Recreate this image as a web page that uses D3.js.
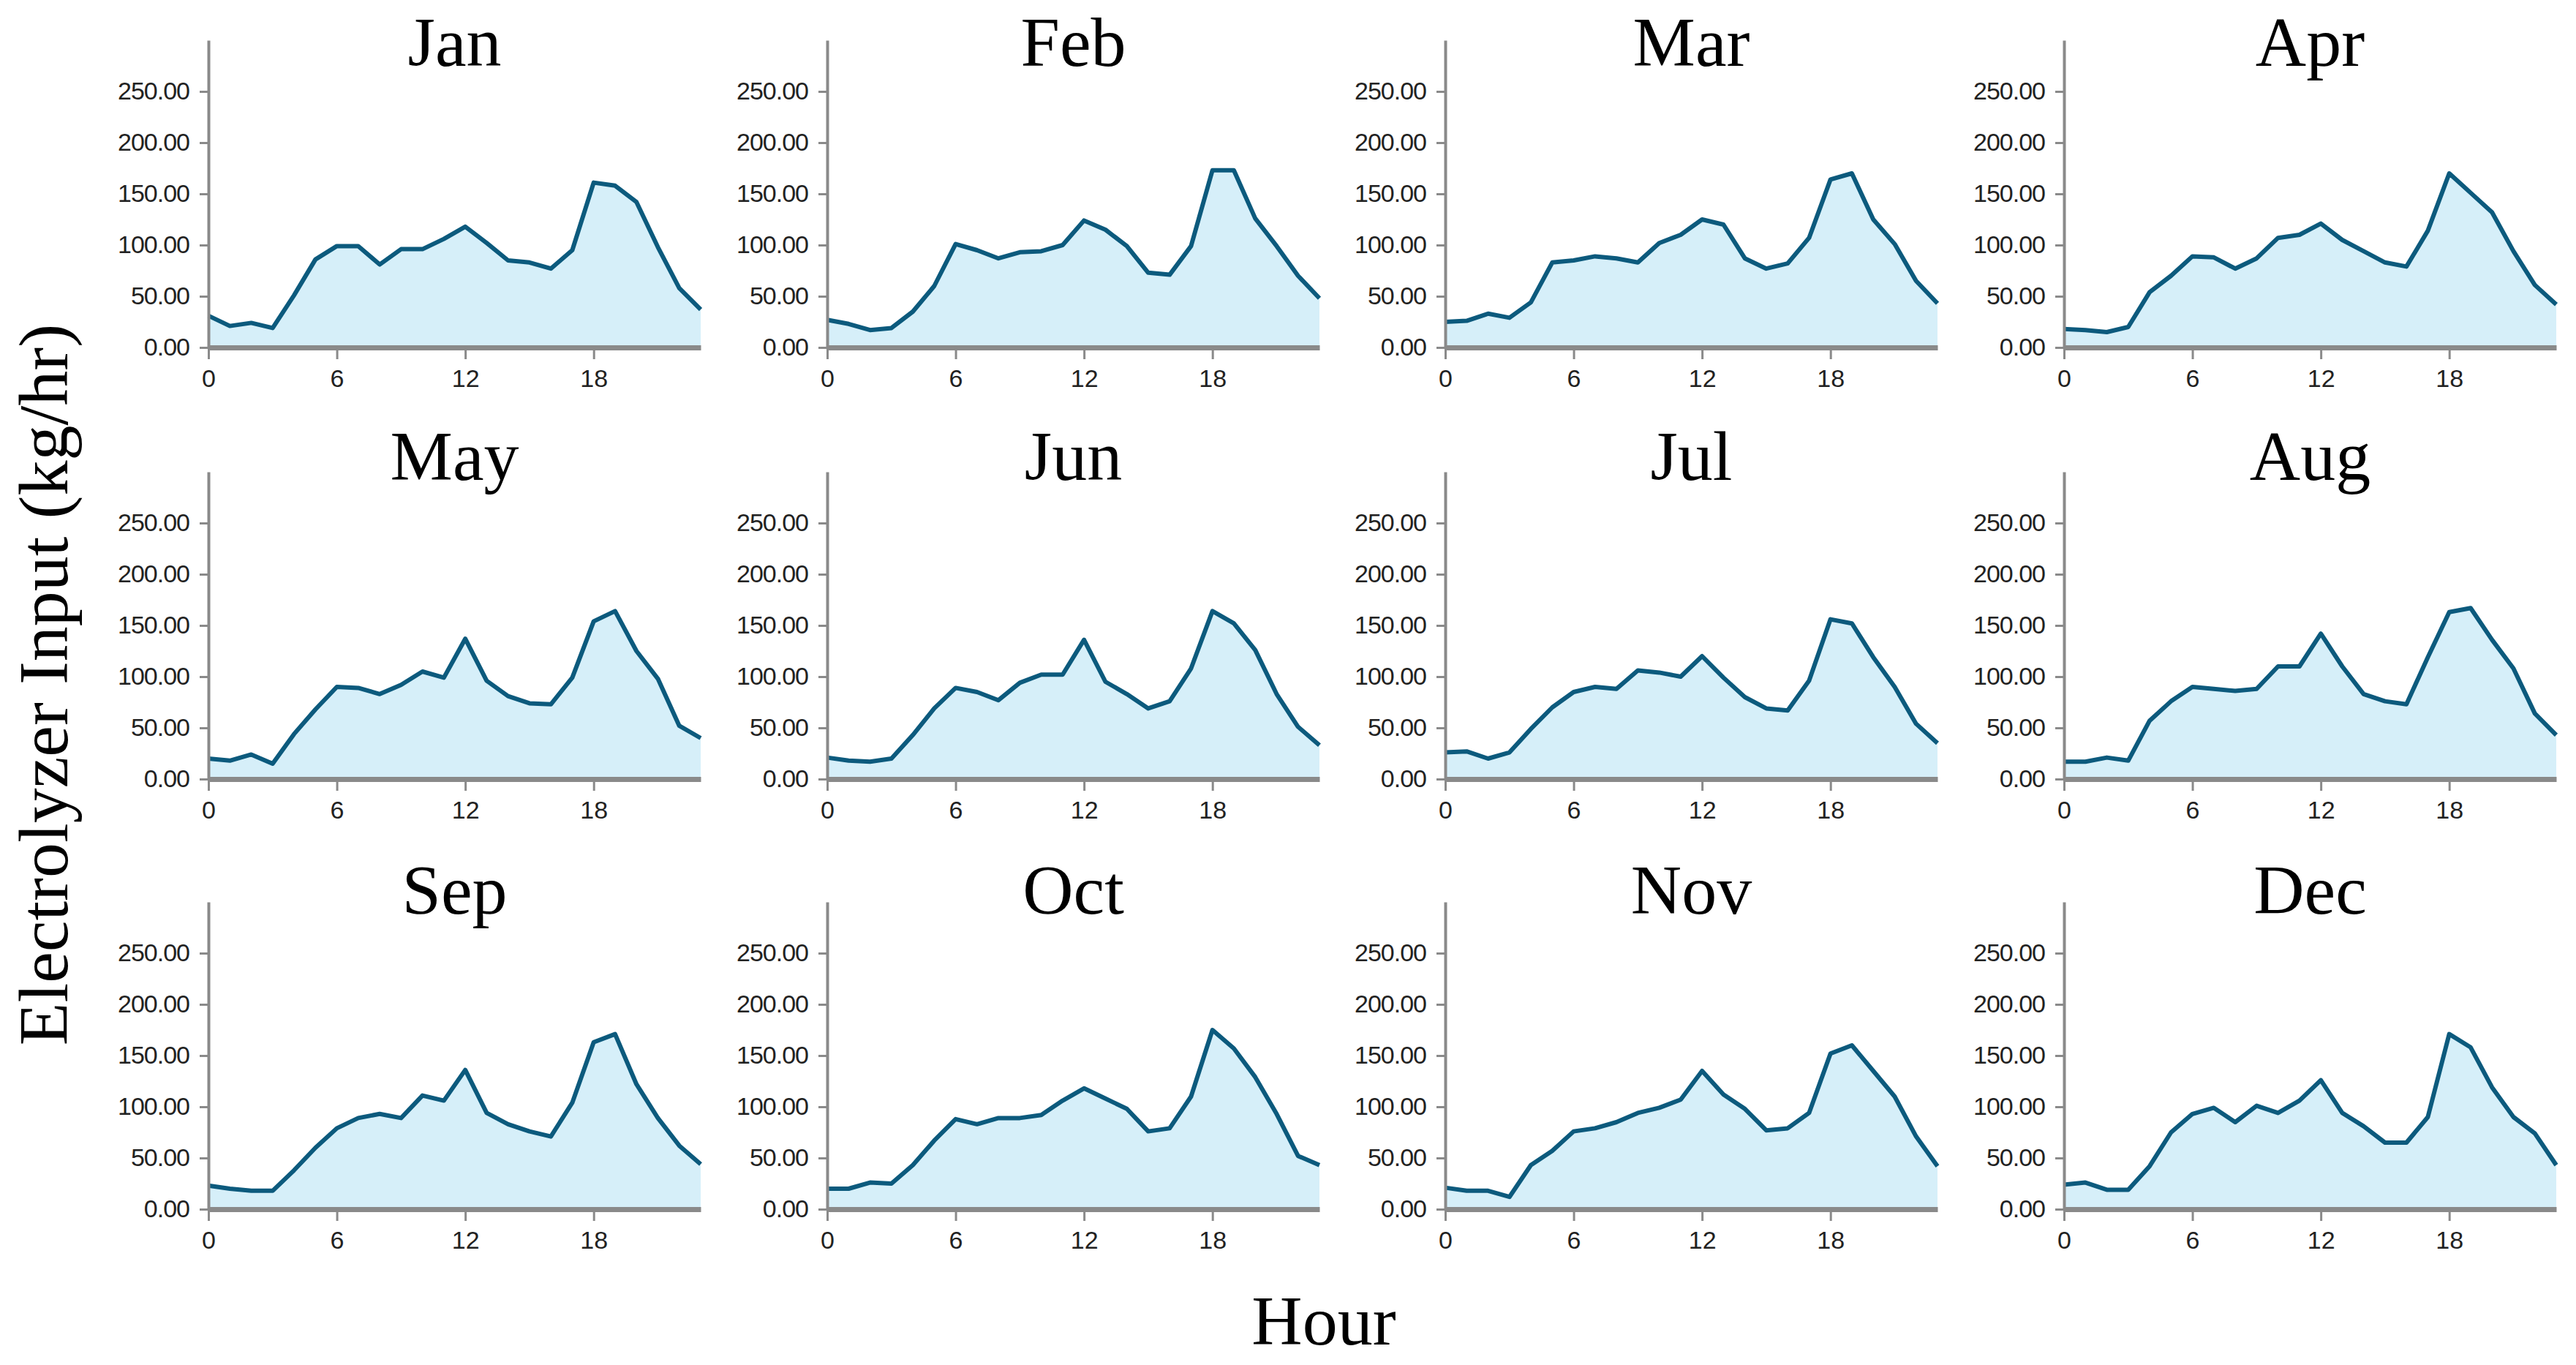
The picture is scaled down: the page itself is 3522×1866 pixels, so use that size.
<!DOCTYPE html>
<html>
<head>
<meta charset="utf-8">
<script src="https://cdn.jsdelivr.net/npm/d3@7"></script>
<style>
  html, body { margin: 0; padding: 0; background: #ffffff; }
  svg { display: block; }
</style>
</head>
<body>
<svg id="chart" width="3522" height="1866"></svg>
<script>
// ---------------- data ----------------
const months = ["Jan", "Feb", "Mar", "Apr", "May", "Jun", "Jul", "Aug", "Sep", "Oct", "Nov", "Dec"];
const hours = [0, 1, 2, 3, 4, 5, 6, 7, 8, 9, 10, 11, 12, 13, 14, 15, 16, 17, 18, 19, 20, 21, 22, 23];
const xTickValues = [0, 6, 12, 18];
const yTickValues = [0, 50, 100, 150, 200, 250];

const jan = [31, 21, 24, 19, 51, 86, 99, 99, 81, 96, 96, 106, 118, 102, 85, 83, 77, 95, 161, 158, 142, 98, 58, 37];
const feb = [27, 23, 17, 19, 35, 60, 101, 95, 87, 93, 94, 100, 124, 115, 99, 73, 71, 99, 173, 173, 126, 99, 70, 48];
const mar = [25, 26, 33, 29, 44, 83, 85, 89, 87, 83, 102, 110, 125, 120, 87, 77, 82, 107, 164, 170, 125, 101, 65, 43];
const apr = [18, 17, 15, 20, 54, 70, 89, 88, 77, 87, 107, 110, 121, 105, 94, 83, 79, 114, 170, 151, 132, 94, 61, 42];
const may = [20, 18, 24, 15, 44, 68, 90, 89, 83, 92, 105, 99, 137, 96, 81, 74, 73, 99, 154, 164, 125, 98, 52, 40];
const jun = [21, 18, 17, 20, 43, 69, 89, 85, 77, 94, 102, 102, 136, 95, 83, 69, 76, 108, 164, 152, 126, 83, 51, 33];
const jul = [26, 27, 20, 26, 49, 70, 85, 90, 88, 106, 104, 100, 120, 99, 80, 69, 67, 96, 156, 152, 119, 90, 54, 35];
const aug = [17, 17, 21, 18, 57, 76, 90, 88, 86, 88, 110, 110, 142, 110, 83, 76, 73, 119, 163, 167, 136, 108, 64, 43];
const sep = [23, 20, 18, 18, 38, 60, 79, 89, 93, 89, 111, 106, 136, 94, 83, 76, 71, 104, 163, 171, 122, 89, 62, 44];
const oct = [20, 20, 26, 25, 43, 67, 88, 83, 89, 89, 92, 106, 118, 108, 98, 76, 79, 110, 175, 157, 129, 93, 52, 43];
const nov = [21, 18, 18, 12, 43, 57, 76, 79, 85, 94, 99, 107, 135, 112, 98, 77, 79, 94, 152, 160, 135, 110, 71, 42];
const dec = [24, 26, 19, 19, 42, 75, 93, 99, 85, 101, 94, 106, 126, 94, 81, 65, 65, 90, 171, 158, 119, 90, 74, 43];

const series = [jan, feb, mar, apr, may, jun, jul, aug, sep, oct, nov, dec];

// ---------------- layout ----------------
const colX = [285, 1131, 1976, 2822];
const plotW = 673;
const rowZero = [475, 1065, 1653];
const plotH = 420;
const titleBaseline = [90, 656, 1249];

const svg = d3.select("#chart");

const x = d3.scaleLinear().domain([0, 23]).range([0, plotW]);
const y = d3.scaleLinear().domain([0, 300]).range([plotH, 0]);

const area = d3.area()
  .x((d, i) => x(hours[i]))
  .y0(y(0))
  .y1(d => y(d));
const line = d3.line()
  .x((d, i) => x(hours[i]))
  .y(d => y(d));

series.forEach((vals, k) => {
  const c = k % 4, r = Math.floor(k / 4);
  const g = svg.append("g")
    .attr("transform", `translate(${colX[c]},${rowZero[r] - plotH})`);

  // area + line
  g.append("path").datum(vals)
    .attr("d", area)
    .attr("fill", "#d6eff9")
    .attr("stroke", "none");
  g.append("path").datum(vals)
    .attr("d", line)
    .attr("fill", "none")
    .attr("stroke", "#0c5a7d")
    .attr("stroke-width", 6)
    .attr("stroke-linejoin", "round");

  // y axis
  const ya = g.append("g")
    .call(d3.axisLeft(y)
      .tickValues(yTickValues)
      .tickFormat(d3.format(".2f"))
      .tickSize(12)
      .tickSizeOuter(0)
      .tickPadding(14));
  ya.select(".domain").attr("stroke", "#8a8a8a").attr("stroke-width", 4);
  ya.selectAll(".tick line").attr("stroke", "#8a8a8a").attr("stroke-width", 3);
  ya.selectAll(".tick text")
    .attr("font-family", "'Liberation Sans Narrow', 'Liberation Sans', sans-serif")
    .attr("font-size", 34)
    .attr("letter-spacing", -1)
    .attr("fill", "#222");

  // x axis
  const xa = g.append("g")
    .attr("transform", `translate(0,${plotH})`)
    .call(d3.axisBottom(x)
      .tickValues(xTickValues)
      .tickFormat(d3.format("d"))
      .tickSize(16)
      .tickSizeOuter(0)
      .tickPadding(14));
  xa.select(".domain").attr("stroke", "#8a8a8a").attr("stroke-width", 7);
  xa.selectAll(".tick line").attr("stroke", "#8a8a8a").attr("stroke-width", 3);
  xa.selectAll(".tick text")
    .attr("font-family", "'Liberation Sans Narrow', 'Liberation Sans', sans-serif")
    .attr("font-size", 34)
    .attr("fill", "#222");

  // month title
  svg.append("text")
    .attr("x", colX[c] + plotW / 2)
    .attr("y", titleBaseline[r])
    .attr("text-anchor", "middle")
    .attr("font-family", "'Liberation Serif', 'Times New Roman', serif")
    .attr("font-size", 96)
    .attr("fill", "#000")
    .text(months[k]);
});

// big axis labels
svg.append("text")
  .attr("transform", "translate(92,936) rotate(-90)")
  .attr("text-anchor", "middle")
  .attr("font-family", "'Liberation Serif', 'Times New Roman', serif")
  .attr("font-size", 96)
  .attr("fill", "#000")
  .text("Electrolyzer Input (kg/hr)");

svg.append("text")
  .attr("x", 1810)
  .attr("y", 1838)
  .attr("text-anchor", "middle")
  .attr("font-family", "'Liberation Serif', 'Times New Roman', serif")
  .attr("font-size", 96)
  .attr("fill", "#000")
  .text("Hour");
</script>
</body>
</html>
